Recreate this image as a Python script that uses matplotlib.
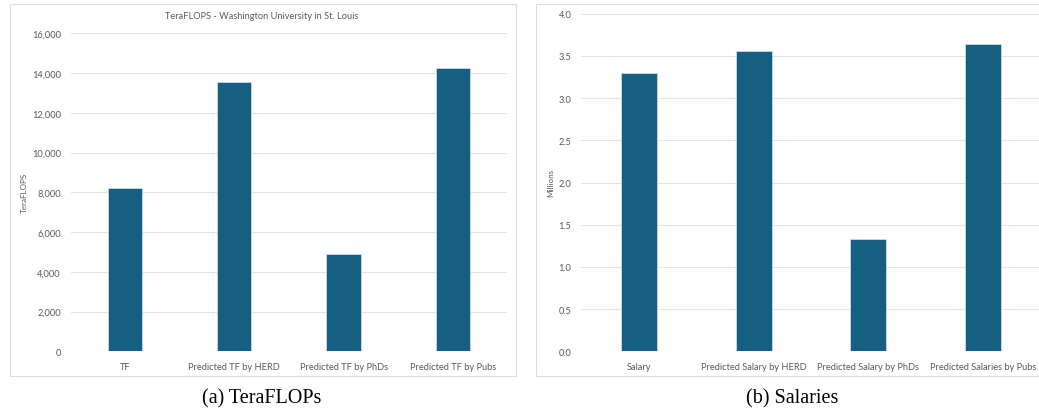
import matplotlib.pyplot as plt
from matplotlib.patches import Rectangle
from matplotlib.ticker import FuncFormatter

# values
tf_labels = ["TF", "Predicted TF by HERD", "Predicted TF by PhDs", "Predicted TF by Pubs"]
tf_values = [8200, 13540, 4910, 14270]
tf_ticks = [0, 2000, 4000, 6000, 8000, 10000, 12000, 14000, 16000]

sal_labels = ["Salary", "Predicted Salary by HERD", "Predicted Salary by PhDs",
              "Predicted Salaries by Pubs"]
sal_values = [3.30, 3.56, 1.334, 3.645]  # millions
sal_ticks = [0.0, 0.5, 1.0, 1.5, 2.0, 2.5, 3.0, 3.5, 4.0]

BAR = "#156082"
GRID = "#e3e3e3"
TXT = "#595959"
W, H = 1039, 414
FS = 6.7

plt.rcParams["font.family"] = ["Lato", "DejaVu Sans"]

fig = plt.figure(figsize=(W / 100, H / 100), dpi=100)


def px_axes(x0, x1, y_top, y_bot):
    return fig.add_axes([x0 / W, 1 - y_bot / H, (x1 - x0) / W, (y_bot - y_top) / H])


def style(ax, ticks):
    for s in ax.spines.values():
        s.set_visible(False)
    ax.set_yticks(ticks)
    ax.grid(axis="y", color=GRID, linewidth=0.8)
    ax.set_axisbelow(True)
    ax.tick_params(length=0, labelsize=FS, colors=TXT)
    ax.tick_params(axis="y", pad=7)
    ax.tick_params(axis="x", pad=7.5)


# panel borders
for x0, x1 in [(9.5, 515.5), (535.5, 1045)]:
    fig.patches.append(Rectangle((x0 / W, 1 - 377 / H), (x1 - x0) / W, (377 - 4.5) / H,
                                 transform=fig.transFigure, fill=False,
                                 edgecolor="#dcdcdc", linewidth=0.8))

# (a) TeraFLOPs
ax1 = px_axes(70.5, 507.3, 34.3, 352.3)
ax1.bar(range(len(tf_values)), tf_values, width=0.315, color=BAR,
        edgecolor="#d6e3ea", linewidth=0.5)
ax1.set_xlim(-0.5, 3.5)
ax1.set_ylim(0, 16000)
style(ax1, tf_ticks)
ax1.yaxis.set_major_formatter(FuncFormatter(lambda v, p: f"{v:,.0f}"))
ax1.set_xticks(range(len(tf_labels)))
ax1.set_xticklabels(tf_labels)
fig.text(262 / W, 1 - 16.7 / H, "TeraFLOPS - Washington University in St. Louis",
         ha="center", va="center", fontsize=FS, color=TXT)
fig.text(24.3 / W, 1 - 193 / H, "TeraFLOPS", rotation=90, ha="center", va="center",
         fontsize=5.8, color=TXT)
fig.text(262 / W, 1 - 399 / H, "(a) TeraFLOPs", ha="center", va="center",
         fontsize=14.5, family="Liberation Serif", color="black")

# (b) Salaries
ax2 = px_axes(581.3, 1040.6, 14.7, 352.3)
ax2.bar(range(len(sal_values)), sal_values, width=0.314, color=BAR,
        edgecolor="#d6e3ea", linewidth=0.5)
ax2.set_xlim(-0.5, 3.5)
ax2.set_ylim(0, 4.0)
style(ax2, sal_ticks)
ax2.yaxis.set_major_formatter(FuncFormatter(lambda v, p: f"{v:.1f}"))
ax2.set_xticks(range(len(sal_labels)))
ax2.set_xticklabels(sal_labels)
fig.text(550.7 / W, 1 - 183 / H, "Millions", rotation=90, ha="center", va="center",
         fontsize=5.8, color=TXT)
fig.text(792 / W, 1 - 399 / H, "(b) Salaries", ha="center", va="center",
         fontsize=14.5, family="Liberation Serif", color="black")

fig.savefig("out.png", dpi=100)
